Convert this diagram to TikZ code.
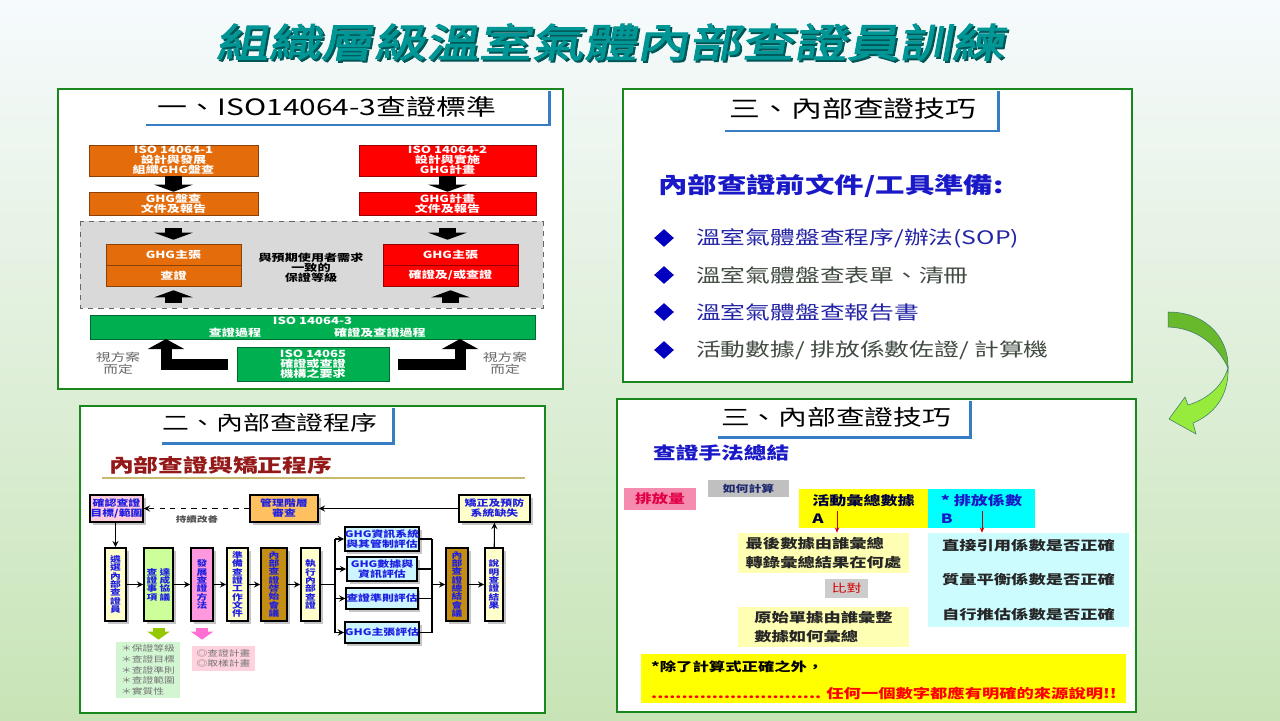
\documentclass[tikz,border=0pt]{standalone}
\usepackage{fontspec}
\setmainfont{Noto Sans CJK TC}[FakeStretch=1.33]
\newfontfamily\heavy{Noto Sans CJK TC}[FakeStretch=1.33,FakeSlant=0.18,FakeBold=2.5]
\usepackage{tikz}
\usetikzlibrary{arrows,arrows.meta,shapes.geometric,shadows}
\newcommand\fs[2]{\fontsize{#1}{#2}\selectfont}

\definecolor{bgtop}{RGB}{246,250,253}
\definecolor{bgbot}{RGB}{200,228,182}
\definecolor{ttlteal}{RGB}{0,150,150}
\definecolor{ttlshade}{RGB}{0,85,85}
\definecolor{panelgreen}{RGB}{25,135,30}
\definecolor{ttlblue}{RGB}{55,125,195}
\definecolor{isoorange}{RGB}{228,108,10}
\definecolor{isored}{RGB}{255,0,0}
\definecolor{isogreen}{RGB}{0,176,80}
\definecolor{fblue}{RGB}{30,30,225}
\definecolor{pinkfill}{RGB}{255,204,221}
\definecolor{mgmtfill}{RGB}{255,192,96}
\definecolor{ltyel}{RGB}{255,255,204}
\definecolor{ltgrn}{RGB}{204,255,153}
\definecolor{hotpink}{RGB}{255,153,221}
\definecolor{brownbox}{RGB}{196,142,20}
\definecolor{ltcyan}{RGB}{204,245,255}
\definecolor{listgrn}{RGB}{210,245,210}
\definecolor{listpink}{RGB}{255,210,222}
\definecolor{arrgrn}{RGB}{150,200,0}
\definecolor{arrpink}{RGB}{255,110,210}
\definecolor{subred}{RGB}{150,25,25}
\definecolor{goldline}{RGB}{200,185,110}
\definecolor{hblue}{RGB}{25,25,200}
\definecolor{bblue}{RGB}{35,35,165}
\definecolor{bgray}{RGB}{65,75,65}
\definecolor{dblue}{RGB}{0,0,190}
\definecolor{emispink}{RGB}{245,140,175}
\definecolor{emistxt}{RGB}{225,0,70}
\definecolor{calcgray}{RGB}{192,192,192}
\definecolor{calctxt}{RGB}{30,40,110}
\definecolor{paleyel}{RGB}{255,255,180}
\definecolor{palecyan}{RGB}{205,252,255}
\definecolor{brightyel}{RGB}{255,255,0}
\definecolor{brightcyan}{RGB}{0,255,255}
\definecolor{ribdark}{RGB}{105,185,45}
\definecolor{riblight}{RGB}{150,235,60}
\definecolor{ribedge}{RGB}{60,120,110}

\begin{document}
\begin{tikzpicture}
	[x=0.02cm,y=-0.02cm,
	panel/.style={draw=panelgreen,line width=1.3pt,fill=white},
	ttlline/.style={draw=ttlblue,line width=1.7pt},
	sz/.style 2 args={minimum width=#1*0.02cm,minimum height=#2*0.02cm,inner sep=0pt},
	isobox/.style={fill=#1,draw=#1!60!black,line width=0.3pt,text=white,align=center,font=\fs{5.6}{5.8}\bfseries},
	wtxt/.style={text=white,font=\fs{5.6}{5.8}\bfseries},
	gtxt/.style={text=black!60,align=center,font=\fs{6.3}{6.8}},
	fat/.style={-{Triangle[width=0.76cm,length=0.14cm]},line width=0.34cm},
	larr/.style={-{Triangle[width=0.72cm,length=0.2cm]},line width=0.22cm},
	fbox/.style={draw,line width=0.9pt,fill=#1,text=fblue,align=center,inner sep=0pt,
		drop shadow={shadow xshift=0.05cm,shadow yshift=-0.05cm,fill=black!45}},
	hfont/.style={font=\fs{5.1}{5.7}\bfseries},
	vfont/.style={font=\fs{4.6}{4.75}\bfseries},
	arc/.style={->,>=stealth,line width=0.6pt},
	garr/.style={-{Triangle[width=0.44cm,length=0.16cm]},line width=0.24cm,draw=#1},
	btxt/.style={anchor=west,font=\fs{10.6}{12}},
	redarr/.style={-{Stealth[length=3pt,width=2.5pt]},draw=red!80!black,line width=0.4pt}]
	\useasboundingbox (0,0) rectangle (1280,720);
	\shade[top color=bgtop,bottom color=bgbot] (0,0) rectangle (1280,720);
	
	% main title
	\node[text=ttlshade,font=\heavy\fs{22.5}{26}] at (612,44) {組織層級溫室氣體內部查證員訓練};
	\node[text=ttlteal,font=\heavy\fs{22.5}{26}] (title) at (610,42) {組織層級溫室氣體內部查證員訓練};
	
	% panel 1
	\draw[panel] (58,89) rectangle (563,389);
	\fill[white] (146,91) rectangle (549,125);
	\draw[ttlline] (146,125) -- (549,125) -- (549,91);
	\node[font=\fs{12.8}{14}] (t1) at (327,107) {一、ISO14064-3查證標準};
	\draw[dashed,draw=black!60,fill=black!15] (80,221) rectangle (543,308);
	\node[isobox=isoorange,sz={169}{31}] (iso1) at (173.5,160.5) {ISO 14064-1\\設計與發展\\組織GHG盤查};
	\node[isobox=isoorange,sz={169}{23}] (ghginv) at (173.5,203.5) {GHG盤查\\文件及報告};
	\node[isobox=isored,sz={177}{31}] (iso2) at (447.5,160.5) {ISO 14064-2\\設計與實施\\GHG計畫};
	\node[isobox=isored,sz={177}{23}] (ghgproj) at (447.5,203.5) {GHG計畫\\文件及報告};
	\node[isobox=isoorange,sz={135}{21}] (claimL) at (173.5,254.5) {GHG主張};
	\node[isobox=isoorange,sz={135}{21}] (verL) at (173.5,275.5) {查證};
	\node[isobox=isored,sz={135}{21}] (claimR) at (450.5,254.5) {GHG主張};
	\node[isobox=isored,sz={135}{21}] (verR) at (450.5,275.5) {確證及/或查證};
	\node[align=center,font=\fs{5.6}{5.8}\bfseries] (need) at (311,268) {與預期使用者需求\\一致的\\保證等級};
	\node[fill=isogreen,draw=isogreen!60!black,line width=0.3pt,sz={445}{24}] (iso3) at (312.5,327) {};
	\node[wtxt] (iso3a) at (312.5,321) {ISO 14064-3};
	\node[wtxt] (iso3b) at (235,333) {查證過程};
	\node[wtxt] (iso3c) at (380,333) {確證及查證過程};
	\node[isobox=isogreen,sz={152}{34}] (iso65) at (313,364) {ISO 14065\\確證或查證\\機構之要求};
	\node[gtxt] (caseL) at (118,363) {視方案\\而定};
	\node[gtxt] (caseR) at (505,363) {視方案\\而定};
	
	\draw[fat] (iso1) -- (ghginv);
	\draw[fat] (iso2) -- (ghgproj);
	\draw[fat,shorten <=0.26cm,shorten >=0.08cm] (ghginv) -- (claimL);
	\draw[fat,shorten <=0.26cm,shorten >=0.08cm] (ghgproj.south) -- (ghgproj.south |- claimR.north);
	\draw[fat,shorten <=0.24cm,shorten >=0.08cm] (iso3.north -| verL) -- (verL);
	\draw[fat,shorten <=0.24cm,shorten >=0.08cm] (iso3.north -| verR) -- (verR);
	\coordinate (lup) at (166,339);
	\coordinate (rup) at (460,339);
	\draw[larr] ([xshift=-0.18cm]iso65.west) -| (lup);
	\draw[larr] ([xshift=0.18cm]iso65.east) -| (rup);
	
	% panel 2
	\draw[panel] (80,406) rectangle (545,713);
	\fill[white] (162,408) rectangle (393,443);
	\draw[ttlline] (162,443) -- (393,443) -- (393,408);
	\node[font=\fs{11.5}{13}] (t2) at (270,423) {二、內部查證程序};
	\node[anchor=west,text=subred,font=\fs{10.6}{12}\bfseries] (sub) at (103,465) {內部查證與矯正程序};
	\draw[goldline,line width=0.8pt] (102,478) -- (525,478);
	
	\node[fbox=pinkfill,sz={53}{27},hfont] (confirm) at (116.5,508.5) {確認查證\\目標/範圍};
	\node[fbox=mgmtfill,sz={68}{27},hfont] (mgmt) at (284,508.5) {管理階層\\審查};
	\node[fbox=ltyel,sz={71}{27},hfont] (fix) at (494.5,508.5) {矯正及預防\\系統缺失};
	\node[text=black!70,font=\fs{4.5}{5}\bfseries] (kaizen) at (197,519) {持續改善};
	
	\node[fbox=ltyel,sz={21}{73},vfont] (select) at (115.5,584.5) {遴\\選\\內\\部\\查\\證\\員};
	\node[fbox=ltgrn,sz={29}{73},vfont] (agree) at (158.5,584.5) {查~達\\證~成\\事~協\\項~議};
	\node[fbox=hotpink,sz={22}{73},vfont] (method) at (202,584.5) {發\\展\\查\\證\\方\\法};
	\node[fbox=ltyel,sz={21}{73},vfont] (prep) at (237.5,584.5) {準\\備\\查\\證\\工\\作\\文\\件};
	\node[fbox=brownbox,sz={26}{73},vfont] (openm) at (274,584.5) {內\\部\\查\\證\\啓\\始\\會\\議};
	\node[fbox=ltyel,sz={19}{73},vfont] (exec) at (310.5,584.5) {執\\行\\內\\部\\查\\證};
	\node[fbox=ltcyan,sz={70}{24},hfont] (ga) at (382,539) {GHG資訊系統\\與其管制評估};
	\node[fbox=ltcyan,sz={70}{24},hfont] (gb) at (382,569) {GHG數據與\\資訊評估};
	\node[fbox=ltcyan,sz={70}{21},hfont] (gc) at (382,598.5) {查證準則評估};
	\node[fbox=ltcyan,sz={70}{21},hfont] (gd) at (382,632.5) {GHG主張評估};
	\node[fbox=brownbox,sz={22}{73},vfont] (sum) at (457,584.5) {內\\部\\查\\證\\總\\結\\會\\議};
	\node[fbox=ltyel,sz={18}{73},vfont] (result) at (494,584.5) {說\\明\\查\\證\\結\\果};
	\node[fill=listgrn,sz={64}{56},align=left,text=black!55,font=\fs{4.6}{6.2}] (alist) at (148,670) {＊保證等級\\＊查證目標\\＊查證準則\\＊查證範圍\\＊實質性};
	\node[fill=listpink,sz={63}{25},align=left,text=black!55,font=\fs{4.6}{5.6}] (plist) at (223.5,658.5) {◎查證計畫\\◎取樣計畫};
	
	\draw[arc,dashed] (mgmt) -- (confirm);
	\draw[arc] (fix) -- (mgmt);
	\draw[arc] (confirm.south -| select) -- (select);
	\foreach \a/\b in {select/agree,agree/method,method/prep,prep/openm,openm/exec,sum/result}
		\draw[arc] (\a) -- (\b);
	\coordinate (bus) at (335,584.5);
	\coordinate (merge) at (432,584.5);
	\draw[line width=0.6pt] (exec) -- (bus);
	\draw[line width=0.6pt] (bus |- ga) -- (bus |- gd);
	\draw[line width=0.6pt] (merge |- ga) -- (merge |- gd);
	\foreach \b in {ga,gb,gc,gd} {
		\draw[arc] (bus |- \b) -- (\b);
		\draw[line width=0.6pt] (\b) -- (merge |- \b);
	}
	\draw[arc] (merge) -- (sum);
	\draw[arc] (result) -- (fix);
	\draw[garr=arrgrn,shorten <=0.12cm,shorten >=0.04cm] (agree.south) -- (agree.south |- alist.north);
	\draw[garr=arrpink,shorten <=0.12cm,shorten >=0.12cm] (method.south) -- (method.south |- plist.north);
	
	% panel 3
	\draw[panel] (623,89) rectangle (1132,382);
	\fill[white] (725,91) rectangle (998,131);
	\draw[ttlline] (725,131) -- (998,131) -- (998,91);
	\node[font=\fs{13.2}{15}] (t3) at (853,109) {三、內部查證技巧};
	\node[anchor=west,text=hblue,font=\fs{12.6}{14}\bfseries] (prehead) at (652,186) {內部查證前文件/工具準備:};
	\foreach \y in {238,275,312,350}
		\node[diamond,fill=dblue,sz={20}{18}] at (664,\y) {};
	\node[btxt,text=bblue] (b1) at (690,238) {溫室氣體盤查程序/辦法(SOP)};
	\node[btxt,text=bgray] (b2) at (690,275) {溫室氣體盤查表單、清冊};
	\node[btxt,text=bblue] (b3) at (690,312) {溫室氣體盤查報告書};
	\node[btxt,text=bgray] (b4) at (690,350) {活動數據/ 排放係數佐證/ 計算機};
	
	% curved arrow
	\filldraw[fill=ribdark,draw=ribedge,line width=0.3pt] (1168,312) .. controls (1208,312) and (1229,340) .. (1228,368) .. controls (1218,346) and (1198,328) .. (1168,327) -- cycle;
	\filldraw[fill=riblight,draw=ribedge,line width=0.3pt] (1228,368) .. controls (1222,388) and (1205,400) .. (1188,405) -- (1185,397) -- (1169,419) -- (1196,434) -- (1193,423) .. controls (1212,415) and (1229,398) .. (1228,368) -- cycle;
	
	% panel 4
	\draw[panel] (617,399) rectangle (1136,712);
	\fill[white] (718,401) rectangle (970,437);
	\draw[ttlline] (718,437) -- (970,437) -- (970,401);
	\node[font=\fs{12.3}{14}] (t4) at (836,417) {三、內部查證技巧};
	\node[anchor=west,text=hblue,font=\fs{9.7}{11}\bfseries] (method4) at (647,453) {查證手法總結};
	\node[fill=emispink,text=emistxt,sz={72}{22},font=\fs{7.1}{8}\bfseries] (emis) at (660,499) {排放量};
	\node[fill=calcgray,text=calctxt,sz={81}{17},font=\fs{5.5}{6}\bfseries] (calc) at (748.5,488.5) {如何計算};
	\node[fill=brightyel,sz={129}{39},align=left,text=black!75!blue,font=\fs{7.3}{10.3}\bfseries] (actA) at (863.5,508.5) {活動彙總數據\\A};
	\node[fill=brightcyan,sz={107}{39},align=left,text=hblue,font=\fs{7.3}{10.3}\bfseries] (efB) at (981.5,508.5) {* 排放係數\\B};
	\node[fill=paleyel,sz={171}{40},align=left,text=black!85,font=\fs{7.4}{10.4}\bfseries] (lastsum) at (823.5,553) {最後數據由誰彙總\\轉錄彙總結果在何處};
	\node[fill=black!20,text=red!85!black,sz={43}{19},font=\fs{6.4}{7}] (cmp) at (846.5,588.5) {比對};
	\node[fill=paleyel,sz={171}{40},align=left,text=black!85,font=\fs{7.4}{10.4}\bfseries] (origsum) at (823.5,627) {原始單據由誰彙整\\數據如何彙總};
	\node[fill=palecyan,sz={201}{94},align=left,text=black!85,font=\fs{7.4}{19.8}\bfseries] (efchk) at (1028.5,580) {直接引用係數是否正確\\質量平衡係數是否正確\\自行推估係數是否正確};
	\node[fill=brightyel,sz={485}{49}] (note) at (883.5,678.5) {};
	\node[anchor=west,font=\fs{7}{8}\bfseries] (note1) at (645,667) {*除了計算式正確之外，};
	\node[anchor=west,text=red,font=\fs{7.4}{8}\bfseries] (note2) at (645,694) {............................ 任何一個數字都應有明確的來源說明!!};
	\coordinate (aA) at (837,511);
	\coordinate (aB) at (982,511);
	\draw[redarr] (aA) -- (aA |- lastsum.north);
	\draw[redarr] (aB) -- (aB |- efchk.north);
\end{tikzpicture}
\end{document}
